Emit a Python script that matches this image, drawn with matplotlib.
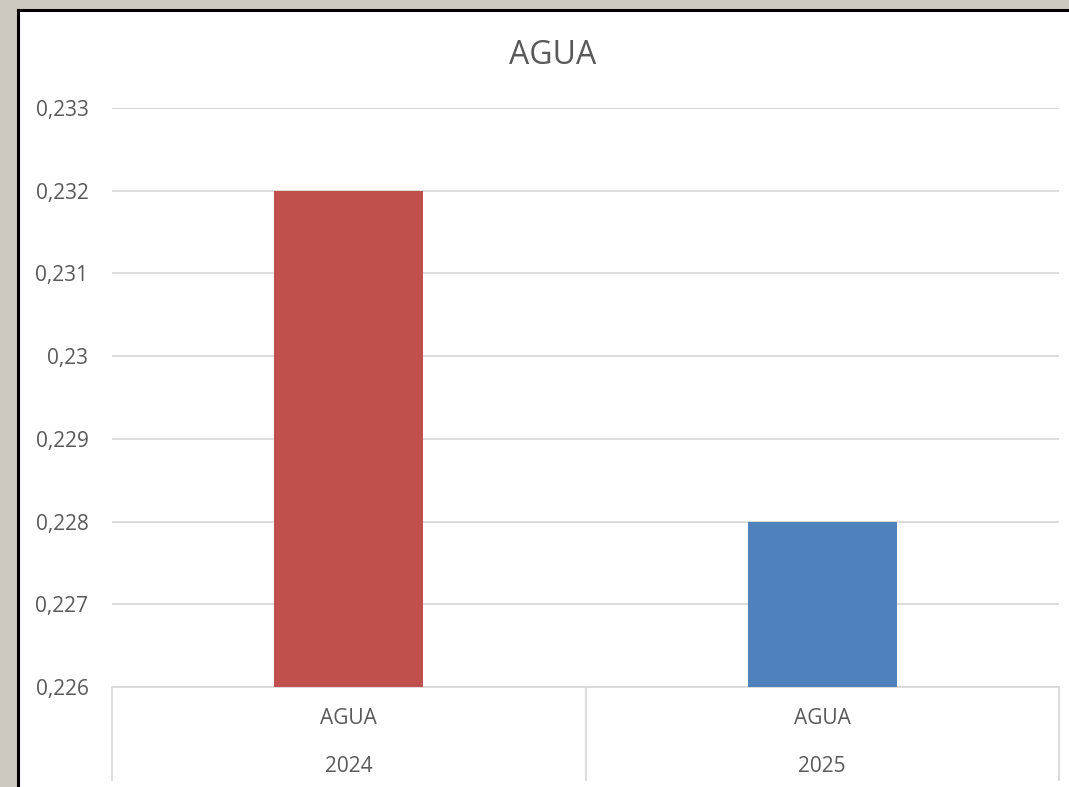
import matplotlib
matplotlib.use("Agg")
import matplotlib.pyplot as plt
from matplotlib.patches import Rectangle
from matplotlib.lines import Line2D
import matplotlib.transforms as mtransforms

categories = ["AGUA", "AGUA"]
years = ["2024", "2025"]
values = [0.232, 0.228]
colors = ["#C0504D", "#4F81BD"]
yticks = [0.226, 0.227, 0.228, 0.229, 0.230, 0.231, 0.232, 0.233]
ytick_labels = ["0,226", "0,227", "0,228", "0,229", "0,23", "0,231", "0,232", "0,233"]
title = "AGUA"

W, H = 1069, 787
fig = plt.figure(figsize=(W / 100, H / 100), dpi=100)
fig.patch.set_facecolor("#CDC8C0")

# white chart area with black left/top border
bg = fig.add_axes([0, 0, 1, 1], zorder=-5)
bg.set_xlim(0, W)
bg.set_ylim(H, 0)
bg.axis("off")
bg.add_patch(Rectangle((18, 10), W + 50, H + 50, facecolor="white", edgecolor="none",
                       clip_on=False))
bg.plot([18, 18], [10, H + 5], color="black", lw=2.2, solid_capstyle="projecting")
bg.plot([18, W + 5], [10, 10], color="black", lw=2.2, solid_capstyle="projecting")

font = "Open Sans"
txt = "#595959"
grid = "#D9D9D9"

ax = fig.add_axes([112 / W, 1 - 687 / H, (1059 - 112) / W, (687 - 108) / H], zorder=2)
ax.set_facecolor("none")
x = list(range(len(values)))
ax.bar(x, values, width=0.315, color=colors, zorder=3)
ax.set_xlim(-0.5, len(values) - 0.5)
ax.set_ylim(yticks[0], yticks[-1])
ax.set_yticks(yticks)
ax.set_yticklabels(ytick_labels, fontfamily=font, fontsize=15, color=txt)
ax.tick_params(axis="y", length=0, pad=17)
ax.set_xticks([])
for s in ["left", "right", "top"]:
    ax.spines[s].set_visible(False)
ax.spines["bottom"].set_color(grid)
ax.spines["bottom"].set_linewidth(1.3)
ax.yaxis.grid(True, color=grid, lw=1.3, zorder=0)
ax.set_axisbelow(True)

trans = mtransforms.blended_transform_factory(ax.transData, ax.transAxes)
depth = (780 - 687) / (687 - 108)
for xs in [-0.5, 0.5, 1.5]:
    ax.add_line(Line2D([xs, xs], [0, -depth], transform=trans, color=grid, lw=1.3, clip_on=False))
for i, (c, yr) in enumerate(zip(categories, years)):
    ax.text(i, -(719 - 687) / (687 - 108), c, transform=trans, ha="center", va="center",
            fontfamily=font, fontsize=15, color=txt)
    ax.text(i, -(766 - 687) / (687 - 108), yr, transform=trans, ha="center", va="center",
            fontfamily=font, fontsize=15, color=txt)

fig.text(553 / W, 1 - 55 / H, title, ha="center", va="center", fontfamily=font,
         fontsize=23, color=txt)

fig.savefig("out.png", dpi=100, facecolor=fig.get_facecolor())
